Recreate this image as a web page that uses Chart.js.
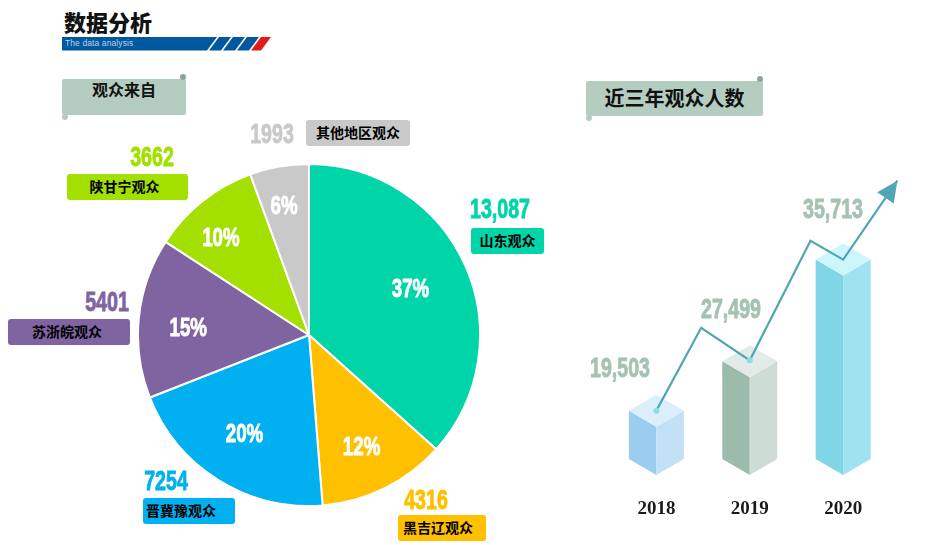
<!DOCTYPE html>
<html lang="zh">
<head>
<meta charset="utf-8">
<title>数据分析</title>
<script src="https://cdn.jsdelivr.net/npm/chart.js@4"></script>
<style>
  html, body { margin: 0; padding: 0; background: #fff; }
  #page { position: relative; width: 936px; height: 545px; overflow: hidden; font-family: "Noto Sans CJK SC", sans-serif; }
  #page canvas { position: absolute; }
  #pieChart { left: 137px; top: 163px; }
  #barChart { left: 570px; top: 150px; }
  .title { position: absolute; left: 64px; top: 6px; font-size: 22px; line-height: 30px; font-weight: 900; color: #111; }
  .subtitle { position: absolute; left: 65px; top: 38px; font: 8.5px/11px "Liberation Sans", sans-serif; letter-spacing: .1px; color: #b9d3e8; }
  #band { position: absolute; left: 62px; top: 37px; }
  .ribbon { position: absolute; background: #b5cdc1; border-radius: 2px; text-align: center; color: #111; font-weight: 700; }
  .ribbon::before, .ribbon::after { content: ""; position: absolute; width: 6px; height: 6px; border-radius: 3px; }
  .ribbon::before { right: 0; top: -5px; background: #8fa39a; }
  .ribbon::after { left: 0; bottom: -5px; background: #b5cdc1; }
  .box { position: absolute; height: 26px; line-height: 25px; border-radius: 3px; text-align: center; font-size: 14px; font-weight: 700; color: #000; }
  .num { position: absolute; transform: translate(-50%, -50%) scaleX(.7); font: 700 28px/30px "Liberation Sans", sans-serif; -webkit-text-stroke: .9px currentColor; white-space: nowrap; }
</style>
</head>
<body>
<div id="page">
  <div class="title">数据分析</div>
  <svg id="band" width="210" height="14">
    <polygon points="0,0 155,0 145,13.5 0,13.5" fill="#00589f"/>
    <polygon points="157,0 169,0 159,13.5 147,13.5" fill="#00589f"/>
    <polygon points="171,0 183,0 173,13.5 161,13.5" fill="#00589f"/>
    <polygon points="185,0 197,0 187,13.5 175,13.5" fill="#00589f"/>
    <polygon points="199,0 209,0 199,13.5 189,13.5" fill="#e31b1b"/>
  </svg>
  <div class="subtitle">The data analysis</div>
  <div class="ribbon" style="left:62px;top:79px;width:124px;height:36px;font-size:16px;line-height:20px">观众来自</div>
  <div class="ribbon" style="left:586px;top:81px;width:177px;height:35px;font-size:20px;line-height:34px">近三年观众人数</div>
  <canvas id="pieChart" width="344" height="344"></canvas>
  <canvas id="barChart" width="366" height="369"></canvas>
</div>

<script>
// pie: audience by region
const regions = ['山东观众', '黑吉辽观众', '晋冀豫观众', '苏浙皖观众', '陕甘宁观众', '其他地区观众'];
const regionValues = [13087, 4316, 7254, 5401, 3662, 1993];
const regionShares = ['37%', '12%', '20%', '15%', '10%', '6%'];

// right chart: the bars in the picture are not to scale, so heights are read off it separately
const years = ['2018', '2019', '2020'];
const yearLabels = ['19,503', '27,499', '35,713'];
const barHeights = [49, 99, 202];

// zigzag arrow, x in bar positions (0 = 2018), y in the same units as barHeights
const trendX = [0, 0.48, 1, 1.65, 2, 2.58];
const trendY = [49, 133, 100, 221, 202, 282];

const regionColors = ['#00d4a9', '#ffc000', '#00b0f0', '#8064a2', '#a3e000', '#c9c9c9'];
const shareRadius = [0.65, 0.72, 0.69, 0.71, 0.78, 0.77];
const shareNudge = [[0, 0], [-2, 2], [-2, 0], [0, 6], [-5, 8], [-2, 1]];
const boxPlace = [
  [471, 228, 73], [398, 515, 88], [143, 498, 92], [8, 319, 122], [67, 174, 121], [306, 120, 104]
];
const boxShift = [0, -8, -16, -4, -6, 0];
const numPlace = [[500, 209], [426, 500], [166, 481], [107, 302], [152, 157], [272, 134]];
const numText = ['13,087', '4316', '7254', '5401', '3662', '1993'];
const yearNumPlace = [[620, 368], [731, 309], [833, 209]];
const cubeColors = [
  { left: '#9bcdf0', right: '#c2e0f6', top: '#daeefc' },
  { left: '#9bbcab', right: '#cddcd5', top: '#e3ebe8' },
  { left: '#80d6e6', right: '#9fe2f0', top: '#cdf6fc' }
];
const lineColor = '#52a5b5';

const page = document.getElementById('page');

function addText(className, text, css) {
  const el = document.createElement('div');
  el.className = className;
  el.textContent = text;
  el.style.cssText = css;
  page.appendChild(el);
}

regions.forEach((name, i) => {
  const [x, y, w] = boxPlace[i];
  addText('box', name, `left:${x}px;top:${y}px;width:${w}px;text-indent:${boxShift[i]}px;background:${regionColors[i]}`);
  const [nx, ny] = numPlace[i];
  addText('num', numText[i], `left:${nx}px;top:${ny}px;color:${regionColors[i]}`);
});

yearLabels.forEach((label, i) => {
  const [x, y] = yearNumPlace[i];
  addText('num', label, `left:${x}px;top:${y}px;color:#a4c3b2`);
});

// percent labels inside the slices
const shareLabels = {
  id: 'shareLabels',
  afterDatasetsDraw(chart) {
    const ctx = chart.ctx;
    ctx.textAlign = 'center';
    ctx.textBaseline = 'middle';
    ctx.fillStyle = '#fff';
    ctx.strokeStyle = '#fff';
    ctx.lineWidth = 0.9;
    ctx.font = '700 26px "Liberation Sans", sans-serif';
    chart.getDatasetMeta(0).data.forEach((arc, i) => {
      const mid = (arc.startAngle + arc.endAngle) / 2;
      const r = arc.outerRadius * shareRadius[i];
      ctx.save();
      ctx.translate(arc.x + Math.cos(mid) * r + shareNudge[i][0], arc.y + Math.sin(mid) * r + shareNudge[i][1]);
      ctx.scale(0.72, 1);
      ctx.fillText(regionShares[i], 0, 0);
      ctx.strokeText(regionShares[i], 0, 0);
      ctx.restore();
    });
  }
};

new Chart(document.getElementById('pieChart'), {
  type: 'pie',
  data: {
    labels: regions,
    datasets: [{
      data: regionValues,
      backgroundColor: regionColors,
      borderColor: '#fff',
      borderWidth: 2
    }]
  },
  options: {
    responsive: false,
    animation: false,
    plugins: { legend: { display: false }, tooltip: { enabled: false } }
  },
  plugins: [shareLabels]
});

// draws each bar as an isometric block, using the bar element's own geometry
const cubeBars = {
  id: 'cubeBars',
  beforeDatasetsDraw(chart) {
    const ctx = chart.ctx;
    const tilt = 16;
    chart.getDatasetMeta(0).data.forEach((bar, i) => {
      const half = bar.width / 2;
      const colors = cubeColors[i];
      fillShape(ctx, colors.left, [[bar.x - half, bar.y], [bar.x, bar.y + tilt], [bar.x, bar.base + tilt], [bar.x - half, bar.base]]);
      fillShape(ctx, colors.right, [[bar.x + half, bar.y], [bar.x, bar.y + tilt], [bar.x, bar.base + tilt], [bar.x + half, bar.base]]);
      fillShape(ctx, colors.top, [[bar.x, bar.y - tilt], [bar.x + half, bar.y], [bar.x, bar.y + tilt], [bar.x - half, bar.y]]);
    });
  },
  afterDatasetsDraw(chart) {
    // arrow head at the end of the trend line
    const points = chart.getDatasetMeta(1).data;
    const tip = points[points.length - 1];
    const prev = points[points.length - 2];
    const a = Math.atan2(tip.y - prev.y, tip.x - prev.x);
    const len = 21, wide = 10;
    const bx = tip.x - Math.cos(a) * len, by = tip.y - Math.sin(a) * len;
    const nx = -Math.sin(a) * wide, ny = Math.cos(a) * wide;
    fillShape(chart.ctx, lineColor, [[tip.x, tip.y], [bx + nx, by + ny], [bx - nx, by - ny]]);
  }
};

function fillShape(ctx, color, pts) {
  ctx.beginPath();
  pts.forEach((p, i) => (i ? ctx.lineTo(p[0], p[1]) : ctx.moveTo(p[0], p[1])));
  ctx.closePath();
  ctx.fillStyle = color;
  ctx.fill();
}

new Chart(document.getElementById('barChart'), {
  data: {
    datasets: [
      {
        type: 'bar',
        order: 2,
        data: barHeights.map((h, i) => ({ x: i, y: h })),
        backgroundColor: 'transparent',
        barThickness: 55
      },
      {
        type: 'line',
        order: 1,
        data: trendX.map((x, i) => ({ x: x, y: trendY[i] })),
        borderColor: lineColor,
        borderWidth: 2.2,
        tension: 0,
        clip: false,
        pointRadius: (c) => (c.dataIndex === 0 || c.dataIndex === 2 ? 3 : 0),
        pointBackgroundColor: '#8adfe2',
        pointBorderWidth: 0
      }
    ]
  },
  options: {
    responsive: false,
    animation: false,
    layout: { padding: 0 },
    plugins: { legend: { display: false }, tooltip: { enabled: false } },
    scales: {
      x: {
        type: 'linear',
        offset: false,
        min: -0.882,
        max: 2.951,
        grid: { display: false },
        border: { display: false },
        afterBuildTicks: (axis) => { axis.ticks = years.map((y, i) => ({ value: i })); },
        afterFit: (axis) => { axis.height = 60; },
        ticks: {
          autoSkip: false,
          maxRotation: 0,
          padding: 31,
          color: '#1a1a1a',
          font: { family: '"Liberation Serif", serif', size: 19, weight: 'bold' },
          callback: (value) => years[value]
        }
      },
      y: { display: false, min: 0, max: 309 }
    }
  },
  plugins: [cubeBars]
});
</script>
</body>
</html>
